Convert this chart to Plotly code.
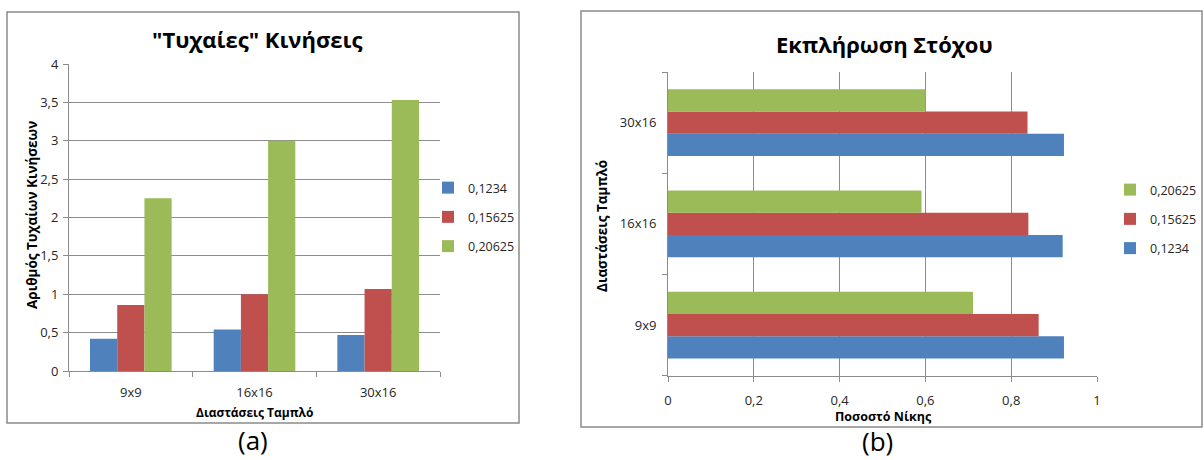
import plotly.graph_objects as go

W, H = 1204, 460

# Board sizes (categories) and the three parameter settings (series)
boards = ["9x9", "16x16", "30x16"]
series_names = ["0,1234", "0,15625", "0,20625"]
series_colors = ["#4F81BD", "#C0504D", "#9BBB59"]

# Average number of "random" moves per board size
moves_0_1234 = [0.42, 0.54, 0.47]
moves_0_15625 = [0.86, 1.00, 1.07]
moves_0_20625 = [2.25, 3.00, 3.53]

# Win rate per board size
win_0_1234 = [0.923, 0.920, 0.923]
win_0_15625 = [0.864, 0.840, 0.838]
win_0_20625 = [0.711, 0.591, 0.600]

FONT = "Open Sans"
GRID = "#8C8C8C"
TEXT = "#262626"


def px(x):
    return x / W


def py(y):
    return 1 - y / H


fig = go.Figure()

# Left panel: vertical grouped bars
for name, vals, col, i in zip(series_names, [moves_0_1234, moves_0_15625, moves_0_20625],
                              series_colors, range(3)):
    fig.add_trace(go.Bar(x=boards, y=vals, name=name, marker_color=col,
                         marker_line_width=0, xaxis="x", yaxis="y",
                         legend="legend", legendgroup=f"a{i}", legendrank=i + 1))

# Right panel: horizontal grouped bars (legend listed top-down as drawn)
for name, vals, col, i in zip(series_names, [win_0_1234, win_0_15625, win_0_20625],
                              series_colors, range(3)):
    fig.add_trace(go.Bar(y=boards, x=vals, name=name, orientation="h",
                         marker_color=col, marker_line_width=0,
                         xaxis="x2", yaxis="y2",
                         legend="legend2", legendgroup=f"b{i}", legendrank=3 - i))

axis_common = dict(
    showline=True, linecolor=GRID, linewidth=1,
    ticks="outside", tickcolor=GRID, ticklen=5, tickwidth=1,
    tickfont=dict(family=FONT, size=13, color=TEXT),
    gridcolor=GRID, gridwidth=1, zeroline=False, fixedrange=True,
    automargin=False,
)

fig.update_layout(
    width=W, height=H,
    margin=dict(l=0, r=0, t=0, b=0, autoexpand=False),
    paper_bgcolor="white", plot_bgcolor="white",
    separators=",.",
    barmode="group", bargap=0.34, bargroupgap=0,
    font=dict(family=FONT, color=TEXT),
    xaxis=dict(domain=[px(69), px(440)], anchor="y", type="category",
               tickson="boundaries", showgrid=False, ticklabelstandoff=9,
               **axis_common),
    yaxis=dict(domain=[py(371), py(64)], anchor="x", range=[0, 4], dtick=0.5,
               showgrid=True, ticklabelstandoff=2, **axis_common),
    xaxis2=dict(domain=[px(668), px(1097)], anchor="y2", range=[0, 1], dtick=0.2,
                showgrid=True, ticklabelstandoff=8, **axis_common),
    yaxis2=dict(domain=[py(375.7), py(72)], anchor="x2", type="category",
                tickson="boundaries", showgrid=False, ticklabelstandoff=8,
                **axis_common),
    legend=dict(x=px(428), y=py(217), yanchor="middle", xanchor="left",
                traceorder="grouped", tracegroupgap=10,
                font=dict(family=FONT, size=12.5, color=TEXT),
                bgcolor="rgba(0,0,0,0)"),
    legend2=dict(x=px(1110), y=py(219), yanchor="middle", xanchor="left",
                 traceorder="grouped", tracegroupgap=10,
                 font=dict(family=FONT, size=12.5, color=TEXT),
                 bgcolor="rgba(0,0,0,0)"),
    showlegend=True,
)

# Panel frames
fig.add_shape(type="rect", xref="paper", yref="paper",
              x0=px(7), x1=px(519), y0=py(423), y1=py(12),
              line=dict(color="#8A8A8A", width=1.5))
fig.add_shape(type="rect", xref="paper", yref="paper",
              x0=px(581), x1=px(1202), y0=py(427), y1=py(11),
              line=dict(color="#8A8A8A", width=1.5))


def label(text, x, y, size, bold=False, angle=0):
    fig.add_annotation(text=f"<b>{text}</b>" if bold else text,
                       x=px(x), y=py(y), xref="paper", yref="paper",
                       xanchor="center", yanchor="middle", showarrow=False,
                       textangle=angle,
                       font=dict(family=FONT, size=size, color="#000000"))


# Titles
label('"Τυχαίες" Κινήσεις', 257, 39, 22, bold=True)
label("Εκπλήρωση Στόχου", 884, 44, 22, bold=True)

# Axis titles
label("Διαστάσεις Ταμπλό", 254, 412, 12, bold=True)
label("Αριθμός Τυχαίων Κινήσεων", 32, 215, 13.5, bold=True, angle=-90)
label("Ποσοστό Νίκης", 883, 416, 12.5, bold=True)
label("Διαστάσεις Ταμπλό", 602, 226, 13.5, bold=True, angle=-90)

# Panel captions
label("(a)", 253, 440, 26)
label("(b)", 878, 441, 26)

fig.write_html("out.html")
